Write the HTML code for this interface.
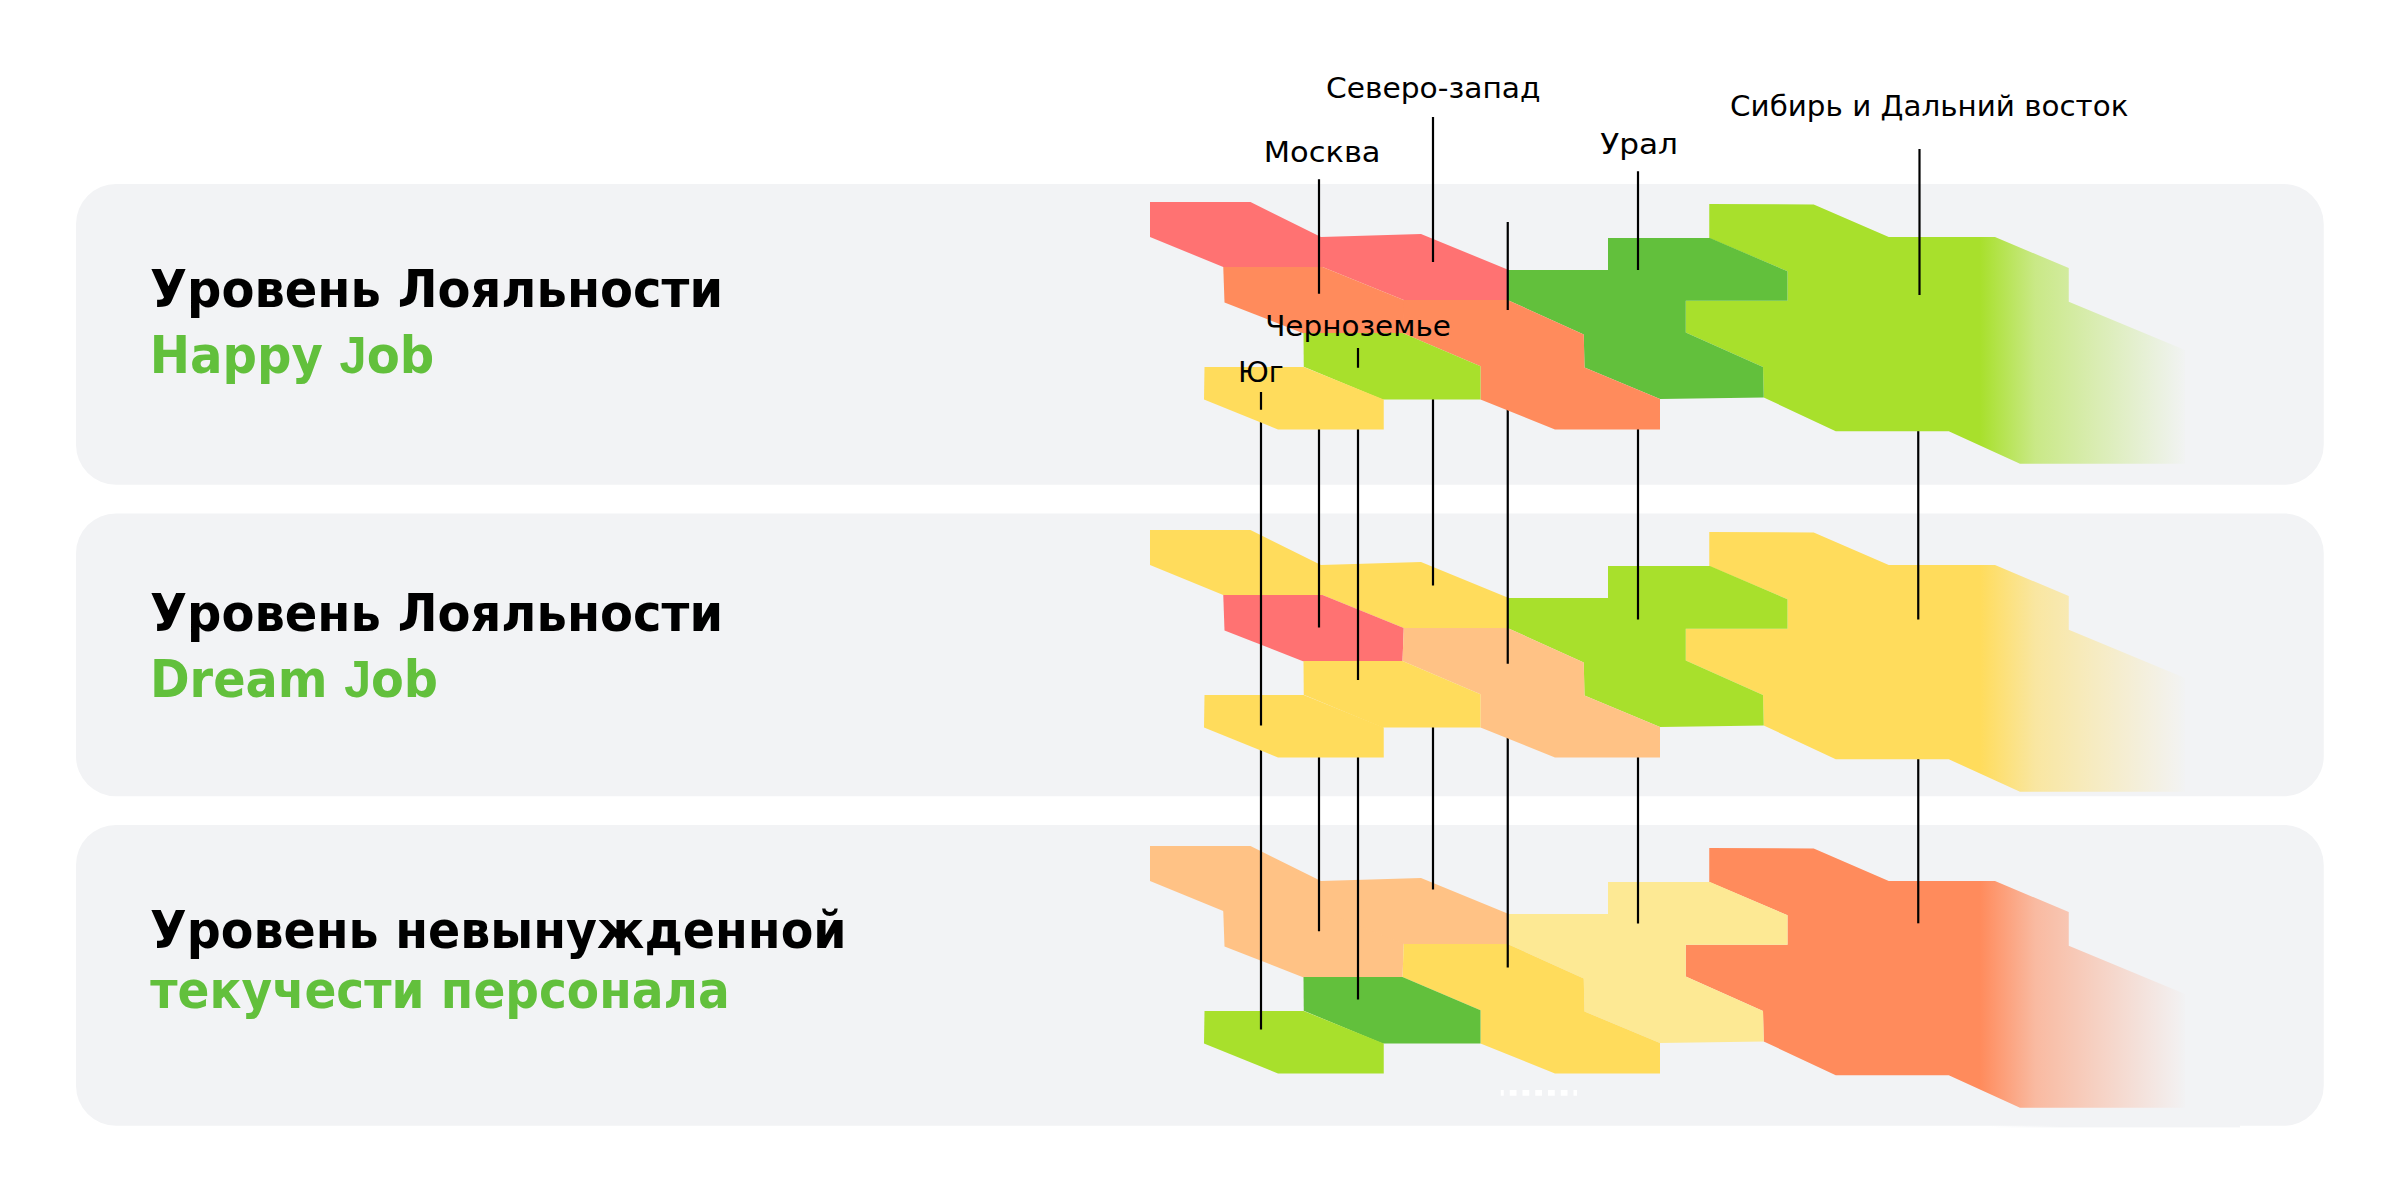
<!DOCTYPE html>
<html lang="ru">
<head>
<meta charset="utf-8">
<title>Уровень Лояльности</title>
<style>
html,body{margin:0;padding:0;background:#fff;}
body{width:2400px;height:1200px;overflow:hidden;position:relative;}
svg{position:absolute;left:0;top:0;display:block;}
text{font-family:"DejaVu Sans","Liberation Sans",sans-serif;}
.h{font-weight:bold;font-size:50.8px;}
.j{font-family:"Liberation Sans",sans-serif;font-size:51.3px;}
.l{font-weight:normal;font-size:28.1px;fill:#000;}
.ln{stroke:#000;stroke-width:2.2;fill:none;}
</style>
</head>
<body>
<svg width="2400" height="1200" viewBox="0 0 2400 1200">
<defs>
<linearGradient id="g1" gradientUnits="userSpaceOnUse" x1="1980" y1="0" x2="2185" y2="0"><stop offset="0" stop-color="#A8E02C" stop-opacity="1"/><stop offset="0.27" stop-color="#A8E02C" stop-opacity="0.55"/><stop offset="1" stop-color="#A8E02C" stop-opacity="0.012"/></linearGradient>
<linearGradient id="g2" gradientUnits="userSpaceOnUse" x1="1980" y1="0" x2="2185" y2="0"><stop offset="0" stop-color="#FFDC5C" stop-opacity="1"/><stop offset="0.27" stop-color="#FFDC5C" stop-opacity="0.55"/><stop offset="1" stop-color="#FFDC5C" stop-opacity="0.012"/></linearGradient>
<linearGradient id="g3" gradientUnits="userSpaceOnUse" x1="1980" y1="0" x2="2185" y2="0"><stop offset="0" stop-color="#FF8B5C" stop-opacity="1"/><stop offset="0.27" stop-color="#FF8B5C" stop-opacity="0.55"/><stop offset="1" stop-color="#FF8B5C" stop-opacity="0.012"/></linearGradient>
</defs>
<rect x="76" y="184" width="2247.75" height="300.8" rx="40" ry="40" fill="#F2F3F5"/>
<rect x="76" y="513.4" width="2247.75" height="282.9" rx="40" ry="40" fill="#F2F3F5"/>
<rect x="76" y="824.9" width="2247.75" height="300.9" rx="40" ry="40" fill="#F2F3F5"/>
<linearGradient id="gs" gradientUnits="userSpaceOnUse" x1="1990" y1="0" x2="2060" y2="0"><stop offset="0" stop-color="#F2F3F5" stop-opacity="0"/><stop offset="1" stop-color="#F2F3F5" stop-opacity="1"/></linearGradient>
<rect x="1990" y="1124" width="250" height="3.4" fill="url(#gs)"/>
<g transform="translate(0,644)"><polyline points="1223.6,267 1322.5,267 1403.4,299.9" fill="none" stroke="#FFC285" stroke-width="1.4"/>
<polygon points="1709.25,204 1813.75,204.5 1888.75,237 1995,237 2068.75,268 2068.75,301.75 2185,350 2185,463.75 2020,463.75 1948.75,431.25 1835.75,431.25 1763.75,397.5 1763,367 1685.75,332.5 1685.75,300.75 1787.5,300.75 1787.5,271.25 1709.25,238" fill="url(#g3)"/>
<polygon points="1507.5,270 1608,270 1608,238 1710,238 1787.5,271.25 1787.5,300.75 1685.75,300.75 1685.75,332.5 1763,367 1763.75,397.5 1660,399 1584.5,367.5 1583.75,334.5 1507.5,300" fill="#FDE994"/>
<polygon points="1150,202 1250.5,202 1321,237 1421,234 1507.5,269.5 1507.5,300 1403.75,300 1322.5,267 1223.25,267 1150,237" fill="#FFC285"/>
<polygon points="1223.25,267 1322.5,267 1403.75,300 1402.5,333 1303,333.25 1224.5,302.5" fill="#FFC285"/>
<polygon points="1403.75,300 1507.5,300 1583.75,334.5 1584.5,367.5 1660,399 1660,429.5 1555,429.5 1480.5,399.5 1480.5,366.25 1402.5,333" fill="#FFDC5C"/>
<polygon points="1303.5,333 1402.5,333 1480.5,366.25 1480.5,399.5 1382.5,399.5 1303.75,366.75" fill="#62C03C"/>
<polygon points="1204.5,367 1303.75,367 1383.75,399.5 1383.75,429.5 1278,429.5 1204,399.5" fill="#A8E02C"/></g>
<line x1="1500.75" y1="1092.9" x2="1577" y2="1092.9" stroke="#fff" stroke-width="5.75" stroke-dasharray="6.75 6" stroke-dashoffset="3.75"/>
<line class="ln" x1="1261" y1="745" x2="1261" y2="1029.5"/>
<line class="ln" x1="1319" y1="750" x2="1319" y2="931.25"/>
<line class="ln" x1="1358" y1="750" x2="1358" y2="999.5"/>
<line class="ln" x1="1433" y1="720" x2="1433" y2="889.5"/>
<line class="ln" x1="1507.75" y1="730" x2="1507.75" y2="967.5"/>
<line class="ln" x1="1638" y1="750" x2="1638" y2="923.5"/>
<line class="ln" x1="1918.25" y1="752" x2="1918.25" y2="923.3"/>
<g transform="translate(0,328)">
<polygon points="1709.25,204 1813.75,204.5 1888.75,237 1995,237 2068.75,268 2068.75,301.75 2185,350 2185,463.75 2020,463.75 1948.75,431.25 1835.75,431.25 1763.75,397.5 1763,367 1685.75,332.5 1685.75,300.75 1787.5,300.75 1787.5,271.25 1709.25,238" fill="url(#g2)"/>
<polygon points="1507.5,270 1608,270 1608,238 1710,238 1787.5,271.25 1787.5,300.75 1685.75,300.75 1685.75,332.5 1763,367 1763.75,397.5 1660,399 1584.5,367.5 1583.75,334.5 1507.5,300" fill="#A8E02C"/>
<polygon points="1150,202 1250.5,202 1321,237 1421,234 1507.5,269.5 1507.5,300 1403.75,300 1322.5,267 1223.25,267 1150,237" fill="#FFDC5C"/>
<polygon points="1223.25,267 1322.5,267 1403.75,300 1402.5,333 1303,333.25 1224.5,302.5" fill="#FF7272"/>
<polygon points="1403.75,300 1507.5,300 1583.75,334.5 1584.5,367.5 1660,399 1660,429.5 1555,429.5 1480.5,399.5 1480.5,366.25 1402.5,333" fill="#FFC285"/>
<polygon points="1303.5,333 1402.5,333 1480.5,366.25 1480.5,399.5 1382.5,399.5 1303.75,366.75" fill="#FFDC5C"/>
<polygon points="1204.5,367 1303.75,367 1383.75,399.5 1383.75,429.5 1278,429.5 1204,399.5" fill="#FFDC5C"/></g>
<line class="ln" x1="1261" y1="415" x2="1261" y2="725.5"/>
<line class="ln" x1="1319" y1="420" x2="1319" y2="627.5"/>
<line class="ln" x1="1358" y1="420" x2="1358" y2="680"/>
<line class="ln" x1="1433" y1="395" x2="1433" y2="585.5"/>
<line class="ln" x1="1507.75" y1="400" x2="1507.75" y2="663.75"/>
<line class="ln" x1="1638" y1="420" x2="1638" y2="619.5"/>
<line class="ln" x1="1918.25" y1="425" x2="1918.25" y2="619.5"/>
<g transform="translate(0,0)"><polyline points="1403.75,300.3 1402.5,332.7" fill="none" stroke="#FF8B5C" stroke-width="1.4"/>
<polygon points="1709.25,204 1813.75,204.5 1888.75,237 1995,237 2068.75,268 2068.75,301.75 2185,350 2185,463.75 2020,463.75 1948.75,431.25 1835.75,431.25 1763.75,397.5 1763,367 1685.75,332.5 1685.75,300.75 1787.5,300.75 1787.5,271.25 1709.25,238" fill="url(#g1)"/>
<polygon points="1507.5,270 1608,270 1608,238 1710,238 1787.5,271.25 1787.5,300.75 1685.75,300.75 1685.75,332.5 1763,367 1763.75,397.5 1660,399 1584.5,367.5 1583.75,334.5 1507.5,300" fill="#62C03C"/>
<polygon points="1150,202 1250.5,202 1321,237 1421,234 1507.5,269.5 1507.5,300 1403.75,300 1322.5,267 1223.25,267 1150,237" fill="#FF7272"/>
<polygon points="1223.25,267 1322.5,267 1403.75,300 1402.5,333 1303,333.25 1224.5,302.5" fill="#FF8B5C"/>
<polygon points="1403.75,300 1507.5,300 1583.75,334.5 1584.5,367.5 1660,399 1660,429.5 1555,429.5 1480.5,399.5 1480.5,366.25 1402.5,333" fill="#FF8B5C"/>
<polygon points="1303.5,333 1402.5,333 1480.5,366.25 1480.5,399.5 1382.5,399.5 1303.75,366.75" fill="#A8E02C"/>
<polygon points="1204.5,367 1303.75,367 1383.75,399.5 1383.75,429.5 1278,429.5 1204,399.5" fill="#FFDC5C"/></g>
<line class="ln" x1="1261" y1="392" x2="1261" y2="409.75"/>
<line class="ln" x1="1319" y1="179.25" x2="1319" y2="293.75"/>
<line class="ln" x1="1358" y1="348" x2="1358" y2="367.75"/>
<line class="ln" x1="1433" y1="117" x2="1433" y2="262"/>
<line class="ln" x1="1507.75" y1="222" x2="1507.75" y2="310"/>
<line class="ln" x1="1638" y1="171.25" x2="1638" y2="270"/>
<line class="ln" x1="1919.5" y1="149" x2="1919.5" y2="295"/>
<text class="l" x="1325.93" y="98.1" textLength="214.6" lengthAdjust="spacingAndGlyphs">Северо-запад</text>
<text class="l" x="1263.81" y="161.9" textLength="116.73" lengthAdjust="spacingAndGlyphs">Москва</text>
<text class="l" x="1600.21" y="154" textLength="77.82" lengthAdjust="spacingAndGlyphs">Урал</text>
<text class="l" x="1265.17" y="335.6" textLength="185.72" lengthAdjust="spacingAndGlyphs">Черноземье</text>
<text class="l" x="1238.14" y="381.9" textLength="45.68" lengthAdjust="spacingAndGlyphs">Юг</text>
<text class="l" x="1730.12" y="116" textLength="398.29" lengthAdjust="spacingAndGlyphs">Сибирь и Дальний восток</text>
<text class="h" x="149.99" y="306.6" textLength="573.06" lengthAdjust="spacingAndGlyphs" fill="#000">Уровень Лояльности</text>
<text class="h" x="149.7" y="372.6" textLength="284.52" lengthAdjust="spacingAndGlyphs" fill="#62C03C">Happy <tspan class="j">J</tspan>ob</text>
<text class="h" x="149.99" y="630.95" textLength="573.06" lengthAdjust="spacingAndGlyphs" fill="#000">Уровень Лояльности</text>
<text class="h" x="149.93" y="696.95" textLength="288.11" lengthAdjust="spacingAndGlyphs" fill="#62C03C">Dream <tspan class="j">J</tspan>ob</text>
<text class="h" x="150.06" y="947.8" textLength="696.63" lengthAdjust="spacingAndGlyphs" fill="#000">Уровень невынужденной</text>
<text class="h" x="150.35" y="1008.0" textLength="579.33" lengthAdjust="spacingAndGlyphs" fill="#62C03C">текучести персонала</text>
</svg>
</body>
</html>
